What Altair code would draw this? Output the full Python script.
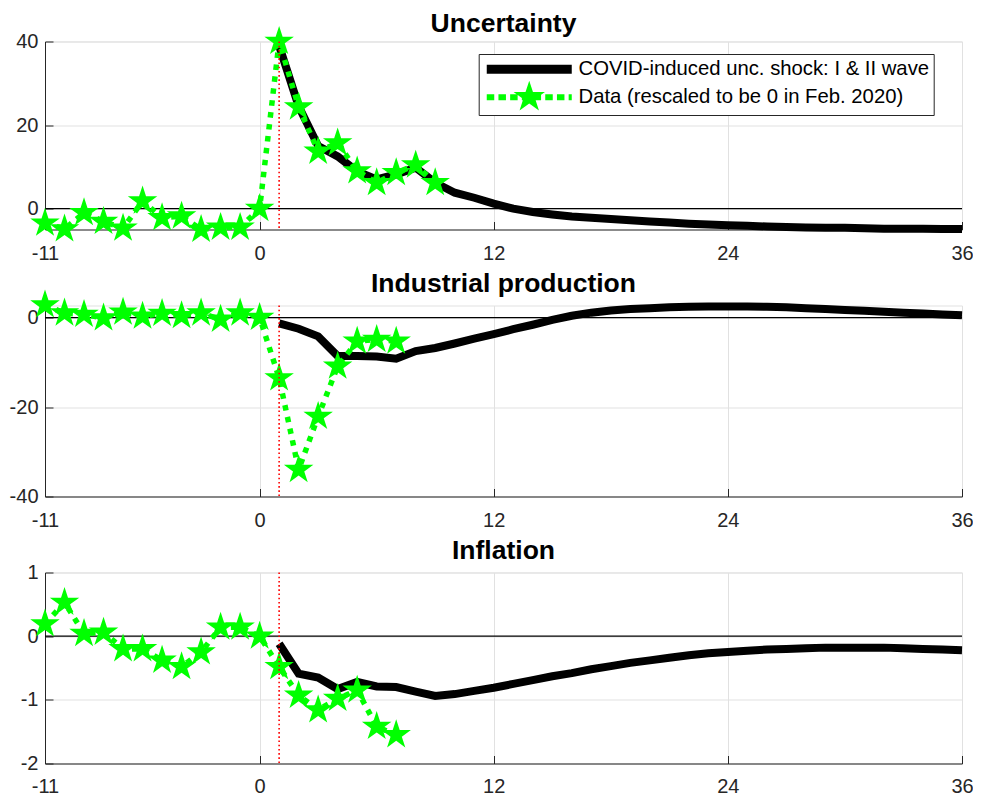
import math
import altair as alt
import pandas as pd

# ---------------- data ----------------
X_TICKS = [-11, 0, 12, 24, 36]
SHOCK_MONTH = [1]
ZERO_LEVEL = [0]

IRF_NAME = "COVID-induced unc. shock: I & II wave"
DATA_NAME = "Data (rescaled to be 0 in Feb. 2020)"

t_irf = list(range(1, 37))

t_data_unc = list(range(-11, 10))
unc_data = [-3.5, -4.9, -1.0, -3.1, -4.7, 1.8, -2.2, -1.8, -5.0, -4.5, -4.5, 0.0,
            40.0, 24.3, 13.7, 15.7, 9.0, 6.2, 8.6, 10.4, 6.2]
unc_irf = [39.0, 24.5, 15.0, 12.5, 8.9, 7.0, 8.2, 9.8, 6.2, 3.8, 2.6, 1.2,
           0.0, -0.8, -1.4, -1.9, -2.2, -2.5, -2.8, -3.1, -3.3, -3.6, -3.8, -4.0,
           -4.1, -4.3, -4.4, -4.5, -4.6, -4.6, -4.7, -4.8, -4.8, -4.8, -4.9, -4.9]

t_data_ip = list(range(-11, 8))
ip_data = [2.8, 1.0, 0.7, -0.1, 1.2, 0.3, 0.9, 0.4, 1.0, -0.4, 1.0, 0.0,
           -13.5, -34.0, -22.1, -10.9, -5.3, -4.9, -5.3]
ip_irf = [-1.3, -2.5, -4.2, -8.6, -8.6, -8.7, -9.2, -7.5, -6.8, -5.8, -4.7, -3.7,
          -2.6, -1.6, -0.5, 0.4, 1.1, 1.6, 1.9, 2.1, 2.3, 2.4, 2.5, 2.5,
          2.5, 2.4, 2.3, 2.1, 1.9, 1.7, 1.5, 1.3, 1.1, 0.9, 0.7, 0.5]

t_data_inf = list(range(-11, 8))
inf_data = [0.19, 0.53, 0.04, 0.06, -0.2, -0.2, -0.38, -0.48, -0.25, 0.14, 0.14, 0.0,
            -0.48, -0.93, -1.16, -0.98, -0.85, -1.42, -1.55]
inf_irf = [-0.12, -0.59, -0.65, -0.83, -0.72, -0.79, -0.80, -0.87, -0.94, -0.91, -0.86, -0.81,
           -0.75, -0.69, -0.63, -0.58, -0.52, -0.47, -0.42, -0.38, -0.34, -0.30, -0.27, -0.25,
           -0.23, -0.21, -0.20, -0.19, -0.18, -0.18, -0.18, -0.18, -0.19, -0.20, -0.21, -0.22]

# ---------------- style ----------------
FONT = "Liberation Sans"
W = 917
DARK = "#262626"
GRID = "#e1e1e1"
GREEN = "#00ff00"
PLAIN_MINUS = "'' + datum.value"


def star_path(cx, cy, R, r):
    pts = []
    for k in range(10):
        ang = -math.pi / 2 + k * math.pi / 5
        rad = R if k % 2 == 0 else r
        pts.append((cx + rad * math.cos(ang), cy + rad * math.sin(ang)))
    s = "M%.3f,%.3f" % pts[0]
    for p in pts[1:]:
        s += "L%.3f,%.3f" % p
    return s + "Z"


def rect_path(x0, y0, x1, y1):
    return "M%.2f,%.2fL%.2f,%.2fL%.2f,%.2fL%.2f,%.2fZ" % (x0, y0, x1, y0, x1, y1, x0, y1)


STAR = star_path(0, 0, 1, 0.382)
STAR_SIZE = 961

# legend symbols (symbolSize 4 -> 1 path unit = 1 px)
LEG_LEN = 85
LEG_X0 = -6.1
legend_irf_path = rect_path(LEG_X0, -4.5, LEG_X0 + LEG_LEN, 4.5)
dots = ""
k = 0
while k * 11.7 < LEG_LEN:
    a = LEG_X0 + k * 11.7
    b = min(a + 7.5, LEG_X0 + LEG_LEN)
    dots += rect_path(a, -3, b, 3)
    k += 1
legend_data_path = dots + star_path(LEG_X0 + 42.5, 0, 16.5, 16.5 * 0.382)


def panel(title, t_data, v_data, v_irf, ydomain, yticks, height, title_offset,
          x_label_pad=14, with_legend=False):
    data_df = pd.DataFrame({"t": t_data, "v": v_data, "series": DATA_NAME})
    irf_df = pd.DataFrame({"t": t_irf, "v": v_irf, "series": IRF_NAME})
    zero_df = pd.DataFrame({"level": ZERO_LEVEL})
    shock_df = pd.DataFrame({"shock": SHOCK_MONTH})

    xs = alt.Scale(domain=[-11, 36], nice=False, zero=False)
    ys = alt.Scale(domain=ydomain, nice=False, zero=False)

    x_main = alt.Axis(values=X_TICKS, title=None, grid=True, gridColor=GRID, gridWidth=1,
                      domain=True, domainColor=DARK, domainWidth=1, ticks=False,
                      labelFont=FONT, labelFontSize=20, labelColor=DARK, labelPadding=x_label_pad,
                      labelFlush=False, labelOverlap=False, labelExpr=PLAIN_MINUS)
    y_main = alt.Axis(values=yticks, title=None, grid=True, gridColor=GRID, gridWidth=1,
                      domain=True, domainColor=DARK, domainWidth=1, ticks=False,
                      labelFont=FONT, labelFontSize=20, labelColor=DARK, labelPadding=7,
                      labelFlush=False, labelOverlap=False, labelExpr=PLAIN_MINUS)
    # inward-pointing ticks: axis shifted 8px into the plot, ticks reaching back to the edge
    x_in = alt.Axis(values=X_TICKS, orient="bottom", offset=-8, title=None, grid=False,
                    domain=False, labels=False, ticks=True, tickSize=8, tickColor=DARK, tickWidth=1)
    y_in = alt.Axis(values=yticks, orient="left", offset=-8, title=None, grid=False,
                    domain=False, labels=False, ticks=True, tickSize=8, tickColor=DARK, tickWidth=1)

    zero = alt.Chart(zero_df).mark_rule(color="black", strokeWidth=1.3).encode(
        y=alt.Y("level:Q", scale=ys, axis=None))

    irf = alt.Chart(irf_df).mark_line(color="black", strokeWidth=8).encode(
        x=alt.X("t:Q", scale=xs, axis=x_main),
        y=alt.Y("v:Q", scale=ys, axis=y_main))

    dline = alt.Chart(data_df).mark_line(color=GREEN, strokeWidth=5.5, strokeDash=[5.5, 6.5]).encode(
        x=alt.X("t:Q", scale=xs, axis=x_in),
        y=alt.Y("v:Q", scale=ys, axis=y_in))

    stars = alt.Chart(data_df).mark_point(shape=STAR, size=STAR_SIZE, filled=True,
                                          color=GREEN, opacity=1, strokeWidth=0).encode(
        x=alt.X("t:Q", scale=xs, axis=None),
        y=alt.Y("v:Q", scale=ys, axis=None))

    shock = alt.Chart(shock_df).mark_rule(color="#ff0000", strokeWidth=1.6, strokeDash=[1.6, 2.6]).encode(
        x=alt.X("shock:Q", scale=xs, axis=None))

    layers = [zero, irf, dline, stars, shock]

    if with_legend:
        leg_df = pd.concat([irf_df, data_df], ignore_index=True)
        leg = alt.Legend(title=" ", titleFontSize=1, titlePadding=0,
                         orient="none", legendX=433.7, legendY=12.5,
                         symbolSize=4, symbolStrokeWidth=0, symbolOpacity=1,
                         labelFont=FONT, labelFontSize=20.3, labelColor="black", labelLimit=800,
                         labelOffset=75.5, padding=4, rowPadding=0,
                         strokeColor=DARK, fillColor="white", cornerRadius=0)
        legend_layer = alt.Chart(leg_df).mark_point(filled=True, opacity=1).encode(
            x=alt.X("t:Q", scale=xs, axis=None),
            y=alt.Y("v:Q", scale=ys, axis=None),
            fill=alt.Fill("series:N", scale=alt.Scale(domain=[IRF_NAME, DATA_NAME], range=["black", GREEN]),
                          legend=leg),
            shape=alt.Shape("series:N", scale=alt.Scale(domain=[IRF_NAME, DATA_NAME],
                                                        range=[legend_irf_path, legend_data_path]),
                            legend=leg),
        ).transform_filter("false")
        layers.append(legend_layer)

    return alt.layer(*layers).resolve_axis(x="independent", y="independent").properties(
        width=W, height=height,
        title=alt.TitleParams(title, font=FONT, fontSize=26.5, fontWeight="bold", color="black",
                              offset=title_offset, frame="group", anchor="middle"))


p1 = panel("Uncertainty", t_data_unc, unc_data, unc_irf, [-5, 40], [0, 20, 40], 188, -11.6,
           with_legend=True)
p2 = panel("Industrial production", t_data_ip, ip_data, ip_irf, [-40, 2.7], [-40, -20, 0], 191, -7.8)
p3 = panel("Inflation", t_data_inf, inf_data, inf_irf, [-2, 1], [-2, -1, 0, 1], 191, -1.6,
           x_label_pad=12.5)

chart = alt.vconcat(p1, p2, p3, spacing=5).resolve_scale(
    fill="independent", shape="independent").resolve_legend(
    fill="independent", shape="independent").configure_view(
    stroke=GRID, strokeWidth=1).properties(
    padding={"left": 0, "right": -6, "top": 2.5, "bottom": 0}, background="white")

chart.save("out.html", embed_options={"renderer": "svg", "actions": False})
